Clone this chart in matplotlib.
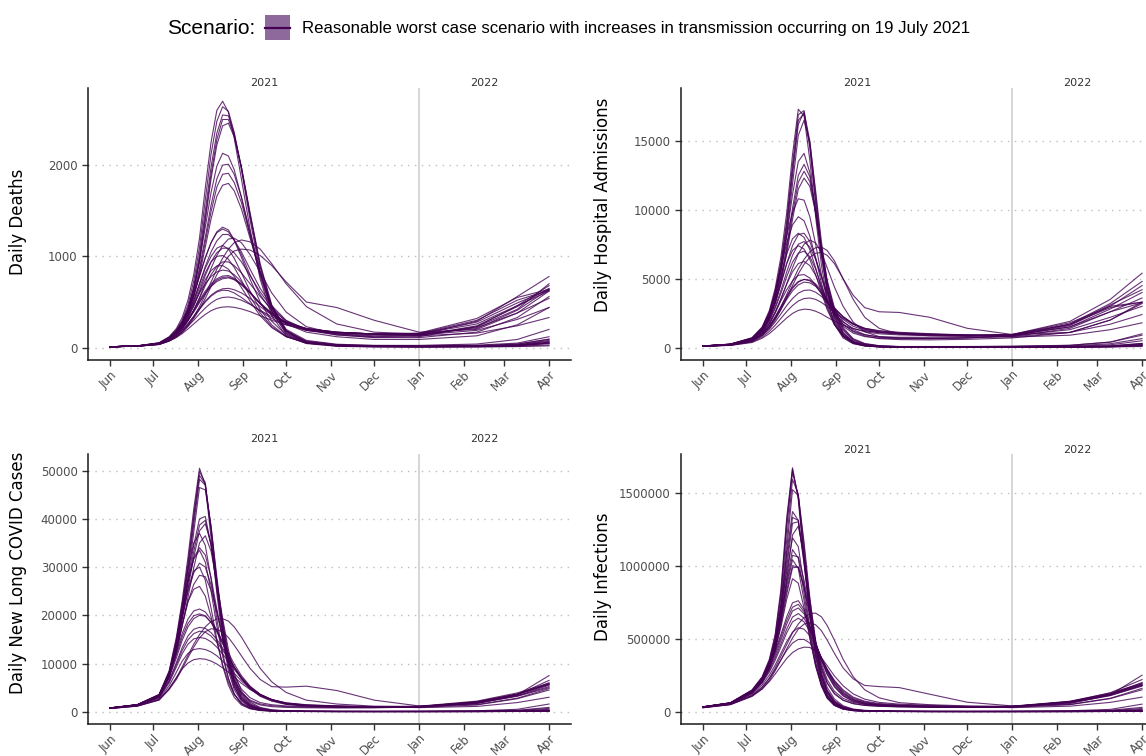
import matplotlib
matplotlib.use("Agg")
import matplotlib.pyplot as plt
import matplotlib.transforms as mtransforms
from matplotlib.patches import Rectangle
from matplotlib.lines import Line2D
import datetime as dt

# ---------------- data ----------------
dates = ["2021-06-01", "2021-06-20", "2021-07-05", "2021-07-12", "2021-07-17", "2021-07-21",
         "2021-07-25", "2021-07-29", "2021-08-02", "2021-08-06", "2021-08-10", "2021-08-14",
         "2021-08-18", "2021-08-22", "2021-08-26", "2021-08-31", "2021-09-06", "2021-09-13",
         "2021-09-21", "2021-10-01", "2021-10-15", "2021-11-05", "2021-12-01", "2022-01-01",
         "2022-02-10", "2022-03-10", "2022-04-01"]

month_ticks = ["2021-06-01", "2021-07-01", "2021-08-01", "2021-09-01", "2021-10-01", "2021-11-01",
               "2021-12-01", "2022-01-01", "2022-02-01", "2022-03-01", "2022-04-01"]
month_labels = ["Jun", "Jul", "Aug", "Sep", "Oct", "Nov", "Dec", "Jan", "Feb", "Mar", "Apr"]
year_labels = ["2021", "2022"]

scenario_label = "Reasonable worst case scenario with increases in transmission occurring on 19 July 2021"

daily_deaths = [
    [10, 20, 55, 120, 210, 330, 520, 800, 1200, 1750, 2250, 2600, 2700, 2580, 2300, 1850, 1300, 750, 350, 130, 45, 15, 8, 6, 8, 12, 20],
    [10, 19, 50, 110, 190, 300, 470, 730, 1100, 1620, 2120, 2480, 2640, 2590, 2360, 1950, 1400, 830, 400, 150, 50, 18, 10, 8, 10, 15, 30],
    [10, 18, 46, 100, 175, 275, 430, 670, 1020, 1500, 1980, 2350, 2550, 2540, 2350, 1980, 1450, 880, 440, 170, 55, 20, 12, 10, 12, 20, 45],
    [10, 18, 44, 95, 165, 255, 400, 620, 940, 1390, 1850, 2220, 2430, 2460, 2310, 1980, 1480, 920, 470, 190, 60, 22, 14, 12, 14, 25, 60],
    [10, 18, 45, 98, 170, 265, 415, 640, 970, 1430, 1900, 2280, 2500, 2500, 2330, 1970, 1460, 900, 455, 180, 58, 21, 13, 11, 13, 22, 50],
    [10, 19, 48, 105, 180, 280, 430, 650, 950, 1320, 1700, 1990, 2130, 2100, 1950, 1650, 1230, 780, 400, 160, 60, 25, 15, 12, 15, 25, 60],
    [10, 18, 44, 95, 165, 255, 390, 590, 870, 1210, 1560, 1850, 2000, 2010, 1900, 1650, 1270, 830, 440, 180, 68, 30, 18, 15, 18, 30, 80],
    [10, 18, 42, 90, 155, 240, 365, 550, 800, 1100, 1410, 1660, 1780, 1800, 1720, 1520, 1200, 820, 450, 200, 80, 38, 24, 22, 28, 50, 120],
    [10, 18, 43, 92, 160, 248, 378, 570, 835, 1160, 1490, 1760, 1900, 1910, 1810, 1590, 1240, 810, 430, 185, 72, 33, 20, 18, 22, 38, 95],
    [10, 20, 52, 115, 195, 290, 420, 590, 790, 990, 1150, 1260, 1300, 1270, 1180, 1020, 800, 580, 400, 260, 170, 120, 90, 90, 130, 250, 440],
    [10, 19, 47, 100, 170, 250, 365, 515, 700, 890, 1050, 1170, 1240, 1240, 1180, 1050, 860, 650, 460, 300, 200, 140, 110, 110, 170, 330, 560],
    [10, 16, 36, 75, 120, 175, 250, 340, 450, 580, 720, 860, 980, 1080, 1150, 1180, 1160, 1080, 920, 700, 450, 260, 170, 150, 210, 410, 640],
    [10, 16, 35, 72, 115, 165, 235, 320, 420, 540, 670, 800, 910, 1000, 1060, 1080, 1070, 1010, 900, 720, 500, 440, 300, 170, 200, 380, 620],
    [10, 18, 42, 92, 155, 230, 330, 460, 620, 790, 940, 1040, 1090, 1090, 1040, 940, 790, 610, 440, 290, 190, 140, 115, 120, 230, 460, 680],
    [10, 18, 41, 88, 145, 210, 300, 410, 540, 680, 800, 890, 940, 940, 900, 820, 700, 560, 420, 290, 200, 150, 130, 140, 290, 560, 780],
    [10, 17, 40, 85, 140, 205, 295, 410, 550, 710, 870, 1010, 1120, 1190, 1200, 1150, 1020, 830, 600, 390, 230, 150, 120, 130, 240, 450, 650],
    [10, 20, 50, 110, 180, 260, 360, 480, 600, 700, 780, 830, 850, 840, 800, 720, 610, 480, 360, 260, 190, 160, 150, 160, 320, 550, 640],
    [10, 18, 44, 95, 155, 225, 310, 410, 520, 620, 700, 755, 785, 790, 760, 700, 600, 480, 370, 270, 200, 165, 150, 155, 300, 520, 630],
    [10, 18, 42, 90, 148, 215, 295, 390, 495, 590, 670, 725, 755, 765, 745, 690, 600, 490, 380, 280, 210, 170, 150, 150, 260, 460, 620],
    [10, 18, 43, 92, 150, 220, 300, 400, 505, 600, 680, 740, 770, 775, 750, 695, 600, 485, 375, 275, 205, 168, 150, 152, 280, 490, 635],
    [10, 17, 40, 85, 138, 196, 265, 345, 430, 510, 575, 620, 645, 650, 635, 600, 540, 450, 360, 275, 210, 170, 150, 140, 220, 380, 540],
    [10, 16, 37, 78, 125, 175, 235, 300, 370, 435, 490, 530, 550, 555, 545, 520, 475, 410, 340, 270, 210, 170, 150, 140, 190, 310, 440],
    [10, 16, 35, 72, 112, 155, 205, 260, 315, 365, 405, 432, 445, 448, 442, 425, 395, 350, 300, 250, 200, 165, 150, 130, 160, 240, 330],
    [10, 17, 39, 82, 132, 188, 255, 335, 420, 500, 565, 610, 630, 625, 600, 550, 480, 400, 320, 250, 190, 155, 140, 140, 230, 420, 700],
    [10, 18, 42, 92, 155, 235, 345, 490, 660, 820, 940, 1000, 1010, 970, 880, 740, 560, 380, 230, 120, 50, 25, 15, 12, 15, 25, 50],
    [10, 18, 41, 88, 148, 222, 325, 455, 605, 745, 845, 895, 900, 860, 780, 660, 510, 350, 220, 120, 55, 30, 25, 25, 40, 90, 200],
    [10, 18, 43, 95, 162, 248, 365, 520, 700, 870, 1000, 1090, 1120, 1080, 980, 820, 620, 420, 250, 125, 50, 25, 18, 15, 20, 40, 90],
    [10, 19, 46, 100, 172, 265, 395, 570, 780, 980, 1150, 1270, 1320, 1290, 1180, 990, 750, 500, 290, 140, 55, 25, 15, 12, 15, 30, 70],
]

daily_admissions = [
    [120, 260, 720, 1500, 2700, 4300, 6600, 9800, 14000, 17300, 16800, 13600, 9500, 6000, 3500, 1700, 700, 280, 120, 55, 30, 25, 25, 25, 30, 50, 80],
    [115, 245, 670, 1400, 2500, 4000, 6200, 9200, 13300, 16900, 17200, 14500, 10400, 6700, 4000, 2000, 850, 330, 140, 60, 35, 30, 30, 30, 35, 60, 120],
    [110, 230, 630, 1300, 2350, 3750, 5800, 8600, 12500, 16200, 17100, 15000, 11100, 7300, 4400, 2300, 1000, 400, 160, 70, 40, 35, 35, 35, 45, 80, 200],
    [105, 220, 600, 1240, 2230, 3550, 5480, 8150, 11850, 15400, 16500, 14900, 11400, 7700, 4750, 2500, 1100, 440, 180, 80, 45, 40, 40, 40, 50, 100, 260],
    [112, 238, 650, 1350, 2420, 3870, 6000, 8900, 12900, 16500, 17000, 14700, 10700, 7000, 4200, 2150, 920, 370, 150, 65, 38, 32, 32, 32, 40, 70, 160],
    [115, 245, 660, 1350, 2400, 3750, 5600, 8100, 11100, 13500, 14100, 12700, 9800, 6700, 4200, 2300, 1050, 440, 190, 85, 45, 40, 40, 40, 55, 110, 300],
    [110, 230, 610, 1250, 2200, 3420, 5100, 7350, 10100, 12500, 13300, 12400, 10000, 7100, 4600, 2600, 1250, 540, 240, 110, 60, 55, 55, 60, 90, 200, 500],
    [105, 220, 580, 1180, 2060, 3180, 4720, 6800, 9300, 11500, 12300, 11700, 9800, 7300, 4900, 2900, 1450, 650, 300, 140, 80, 80, 80, 100, 170, 400, 900],
    [108, 225, 595, 1215, 2130, 3300, 4900, 7080, 9700, 12000, 12800, 12050, 9900, 7200, 4750, 2750, 1350, 590, 270, 125, 70, 65, 65, 75, 120, 280, 650],
    [115, 240, 650, 1300, 2200, 3250, 4600, 6100, 7400, 8200, 8300, 7700, 6500, 5100, 3800, 2600, 1700, 1150, 850, 650, 580, 560, 600, 700, 1100, 2000, 3200],
    [110, 225, 600, 1200, 2000, 2950, 4150, 5500, 6700, 7500, 7700, 7300, 6400, 5200, 4000, 2850, 1900, 1300, 950, 750, 680, 650, 700, 800, 1400, 2600, 3600],
    [100, 195, 500, 950, 1500, 2150, 2950, 3850, 4800, 5700, 6400, 6950, 7250, 7300, 7050, 6300, 5000, 3500, 2200, 1400, 980, 860, 850, 900, 1500, 2800, 4000],
    [95, 185, 470, 890, 1400, 2000, 2750, 3600, 4500, 5350, 6050, 6550, 6850, 6900, 6700, 6100, 5000, 3800, 2900, 2600, 2550, 2200, 1400, 950, 1100, 2000, 3300],
    [110, 220, 590, 1180, 1950, 2850, 3950, 5150, 6200, 6850, 7000, 6600, 5700, 4500, 3400, 2350, 1550, 1050, 800, 680, 650, 650, 700, 850, 1600, 3000, 4500],
    [105, 210, 550, 1080, 1780, 2580, 3560, 4600, 5500, 6100, 6250, 5950, 5250, 4300, 3350, 2450, 1700, 1200, 920, 780, 750, 750, 800, 950, 1900, 3500, 5400],
    [100, 200, 520, 1020, 1700, 2500, 3500, 4650, 5800, 6800, 7500, 7800, 7600, 6900, 5800, 4400, 3000, 1850, 1150, 800, 700, 680, 720, 850, 1700, 3200, 4800],
    [110, 215, 570, 1120, 1800, 2550, 3400, 4200, 4850, 5250, 5300, 5050, 4550, 3900, 3200, 2500, 1850, 1400, 1150, 1000, 920, 870, 850, 950, 1800, 3000, 3300],
    [100, 195, 510, 1000, 1600, 2250, 3000, 3750, 4380, 4800, 4950, 4850, 4500, 3950, 3350, 2700, 2050, 1550, 1250, 1080, 980, 920, 900, 950, 1700, 2900, 3300],
    [100, 190, 490, 950, 1500, 2100, 2800, 3500, 4120, 4550, 4750, 4700, 4450, 4000, 3450, 2850, 2200, 1700, 1350, 1150, 1030, 960, 910, 900, 1500, 2600, 3250],
    [100, 180, 450, 860, 1340, 1860, 2450, 3050, 3560, 3950, 4150, 4180, 4020, 3720, 3300, 2800, 2250, 1750, 1400, 1200, 1080, 980, 910, 860, 1300, 2200, 3000],
    [98, 170, 410, 770, 1180, 1620, 2120, 2620, 3050, 3380, 3560, 3600, 3500, 3280, 2980, 2580, 2120, 1700, 1400, 1230, 1110, 1010, 920, 800, 1100, 1700, 2400],
    [92, 158, 370, 680, 1020, 1380, 1770, 2150, 2480, 2700, 2790, 2760, 2640, 2450, 2200, 1920, 1620, 1370, 1200, 1100, 1040, 960, 860, 760, 900, 1300, 1800],
    [102, 192, 500, 975, 1550, 2180, 2900, 3640, 4300, 4750, 4950, 4900, 4620, 4150, 3550, 2900, 2250, 1700, 1320, 1120, 1000, 940, 900, 920, 1650, 3100, 4200],
    [112, 228, 640, 1320, 2320, 3600, 5200, 6800, 7900, 8300, 8000, 7100, 5800, 4300, 2900, 1700, 850, 380, 160, 75, 50, 45, 45, 50, 70, 130, 300],
    [105, 215, 590, 1220, 2130, 3280, 4700, 6100, 7050, 7400, 7150, 6400, 5300, 4000, 2750, 1650, 870, 420, 190, 100, 70, 65, 70, 90, 160, 400, 1000],
    [115, 240, 680, 1420, 2520, 3950, 5750, 7600, 8900, 9500, 9200, 8100, 6500, 4700, 3100, 1750, 800, 330, 130, 55, 35, 30, 28, 30, 45, 90, 220],
    [118, 250, 700, 1460, 2600, 4100, 6050, 8150, 9800, 10800, 10700, 9500, 7500, 5300, 3400, 1850, 820, 320, 120, 50, 30, 25, 25, 25, 35, 60, 150],
]

daily_long_covid = [
    [800, 1500, 3600, 8500, 15500, 23000, 32000, 42000, 50500, 47000, 36000, 24500, 15000, 8500, 4600, 2200, 950, 400, 180, 100, 60, 40, 35, 35, 40, 60, 100],
    [780, 1460, 3450, 8000, 14700, 22000, 30800, 40800, 49800, 47500, 37500, 26000, 16200, 9300, 5100, 2450, 1050, 450, 200, 110, 65, 45, 40, 40, 45, 70, 150],
    [760, 1420, 3300, 7600, 13800, 20700, 29100, 38800, 48200, 47000, 38300, 27200, 17300, 10100, 5600, 2700, 1200, 510, 230, 120, 70, 50, 45, 45, 55, 90, 250],
    [750, 1390, 3200, 7300, 13200, 19800, 27800, 37200, 46500, 46000, 38500, 28000, 18200, 10800, 6100, 3000, 1320, 560, 250, 130, 75, 55, 50, 50, 60, 110, 350],
    [770, 1440, 3380, 7800, 14300, 21400, 30000, 39900, 49000, 47200, 37900, 26600, 16700, 9700, 5300, 2550, 1120, 480, 215, 115, 68, 48, 42, 42, 50, 80, 200],
    [780, 1450, 3400, 7900, 14000, 20500, 27500, 34500, 40000, 40500, 34500, 25500, 17000, 10500, 6000, 3000, 1350, 600, 260, 140, 80, 60, 55, 60, 80, 160, 500],
    [750, 1400, 3250, 7400, 13000, 19000, 25500, 32000, 37500, 39000, 34800, 27000, 18800, 12000, 7200, 3700, 1700, 760, 330, 170, 100, 75, 70, 80, 130, 300, 900],
    [740, 1370, 3100, 7000, 12200, 17700, 23700, 29800, 35000, 36500, 33300, 26700, 19400, 12900, 8000, 4300, 2000, 900, 400, 200, 120, 90, 90, 110, 200, 500, 1600],
    [760, 1420, 3320, 7650, 13500, 19700, 26500, 33200, 38700, 39700, 34600, 26200, 17900, 11200, 6600, 3350, 1520, 680, 295, 155, 90, 68, 62, 70, 105, 230, 700],
    [780, 1450, 3500, 8000, 13800, 19500, 24800, 28800, 30800, 30000, 26300, 20800, 15200, 10300, 6700, 4000, 2400, 1600, 1250, 1050, 950, 880, 880, 1100, 2000, 3600, 5600],
    [750, 1400, 3300, 7500, 12800, 18000, 22800, 26400, 28300, 28000, 25200, 20600, 15600, 11100, 7500, 4700, 2900, 1900, 1450, 1200, 1050, 970, 950, 1150, 2200, 3900, 5900],
    [680, 1200, 2500, 4800, 7000, 9300, 11700, 14000, 16000, 17600, 18700, 19200, 19300, 18800, 17600, 15500, 12500, 9000, 6200, 4000, 2400, 1600, 1150, 1100, 2000, 3600, 5700],
    [660, 1150, 2400, 4600, 6700, 8900, 11200, 13400, 15300, 16600, 17200, 17100, 16500, 15400, 13800, 11600, 9000, 6700, 5200, 5100, 5300, 4400, 2400, 1200, 1500, 2800, 4800],
    [770, 1440, 3450, 7950, 14000, 20300, 26900, 31900, 34000, 32500, 27800, 21300, 15200, 10100, 6400, 3800, 2200, 1400, 1050, 900, 820, 780, 800, 1000, 1800, 3300, 5200],
    [770, 1450, 3500, 7700, 12300, 16200, 19200, 20900, 21300, 20700, 19100, 16900, 14300, 11700, 9300, 6900, 4800, 3200, 2200, 1500, 1150, 1000, 950, 1050, 2100, 3700, 5800],
    [750, 1400, 3300, 7100, 11200, 14800, 17600, 19300, 20000, 19800, 18600, 16800, 14600, 12200, 9900, 7500, 5300, 3600, 2450, 1650, 1250, 1070, 1000, 1050, 2000, 3600, 6000],
    [740, 1350, 3100, 6500, 10200, 13300, 15700, 17100, 17500, 17300, 16400, 15000, 13200, 11300, 9300, 7200, 5200, 3600, 2500, 1700, 1300, 1100, 1000, 1000, 1800, 3300, 5500],
    [720, 1300, 2900, 6000, 9300, 12000, 14000, 15100, 15400, 15200, 14500, 13400, 12000, 10400, 8800, 6900, 5100, 3600, 2550, 1750, 1350, 1150, 1000, 950, 1700, 3500, 7500],
    [700, 1250, 2700, 5400, 8200, 10500, 12100, 12900, 13100, 12900, 12400, 11600, 10500, 9300, 8000, 6400, 4800, 3500, 2500, 1800, 1400, 1180, 1050, 900, 1400, 2700, 4500],
    [680, 1200, 2500, 4800, 7100, 8900, 10100, 10800, 11000, 10900, 10500, 9900, 9100, 8200, 7200, 5900, 4600, 3400, 2500, 1850, 1450, 1220, 1050, 850, 1100, 1900, 3000],
    [760, 1420, 3400, 7400, 11800, 15500, 18300, 19900, 20300, 19900, 18500, 16500, 14100, 11600, 9200, 6900, 4800, 3300, 2300, 1600, 1200, 1030, 970, 1020, 1900, 3500, 6500],
    [730, 1330, 3000, 6300, 9800, 12700, 14900, 16200, 16700, 16500, 15700, 14400, 12800, 11000, 9100, 7000, 5000, 3500, 2450, 1700, 1300, 1100, 1000, 980, 1750, 3200, 5000],
    [760, 1400, 3300, 7800, 13800, 19900, 25500, 29200, 30000, 27300, 21500, 15000, 9500, 5500, 3000, 1400, 600, 250, 120, 70, 45, 35, 30, 30, 35, 55, 100],
    [740, 1350, 3100, 7200, 12600, 18000, 22800, 25400, 26000, 24000, 19700, 14500, 9800, 6100, 3600, 1800, 820, 360, 170, 100, 60, 45, 40, 45, 60, 110, 250],
    [760, 1420, 3400, 8100, 14400, 21000, 27300, 31600, 33500, 31000, 25000, 17800, 11500, 6800, 3700, 1700, 730, 310, 150, 90, 55, 40, 35, 35, 40, 70, 150],
    [770, 1440, 3450, 8300, 15000, 22300, 29500, 35000, 37000, 34500, 27500, 19200, 12200, 7000, 3700, 1650, 700, 300, 140, 80, 50, 38, 34, 34, 38, 60, 120],
]

daily_infections = [
    [34000, 62000, 150000, 240000, 360000, 530000, 840000, 1330000, 1670000, 1450000, 1030000, 640000, 370000, 200000, 105000, 50000, 22000, 9000, 4500, 3000, 2000, 1300, 1100, 1100, 1300, 2000, 3500],
    [33000, 60000, 142000, 228000, 340000, 500000, 790000, 1260000, 1640000, 1480000, 1080000, 690000, 400000, 220000, 116000, 56000, 25000, 10000, 5000, 3300, 2200, 1500, 1300, 1300, 1500, 2300, 5000],
    [32000, 58000, 135000, 215000, 320000, 470000, 740000, 1180000, 1590000, 1490000, 1130000, 740000, 440000, 245000, 130000, 63000, 28000, 11500, 5600, 3600, 2400, 1700, 1500, 1500, 1800, 3000, 8000],
    [31000, 57000, 130000, 205000, 305000, 445000, 700000, 1110000, 1520000, 1480000, 1160000, 780000, 470000, 265000, 142000, 69000, 31000, 12800, 6200, 4000, 2600, 1900, 1700, 1700, 2100, 3800, 11000],
    [33500, 61000, 146000, 234000, 350000, 515000, 815000, 1300000, 1660000, 1470000, 1055000, 665000, 385000, 210000, 110000, 53000, 23500, 9500, 4800, 3150, 2100, 1400, 1200, 1200, 1400, 2100, 4200],
    [33000, 60000, 140000, 225000, 335000, 485000, 730000, 1080000, 1370000, 1310000, 1010000, 680000, 410000, 235000, 128000, 63000, 29000, 12500, 6300, 4000, 2600, 2000, 1800, 2000, 2600, 5200, 16000],
    [32000, 58000, 132000, 210000, 310000, 445000, 665000, 990000, 1290000, 1300000, 1050000, 730000, 455000, 265000, 148000, 75000, 35000, 15500, 7800, 5000, 3300, 2500, 2300, 2600, 4300, 10000, 30000],
    [31000, 57000, 127000, 200000, 292000, 415000, 615000, 915000, 1210000, 1270000, 1070000, 770000, 490000, 292000, 167000, 87000, 41000, 18500, 9500, 6000, 4000, 3000, 2900, 3500, 6500, 16000, 52000],
    [32500, 59000, 136000, 217000, 322000, 465000, 698000, 1035000, 1330000, 1310000, 1030000, 705000, 432000, 250000, 138000, 69000, 32000, 14000, 7000, 4500, 2950, 2250, 2050, 2300, 3400, 7500, 22000],
    [33000, 60000, 145000, 230000, 335000, 470000, 650000, 880000, 1070000, 1060000, 900000, 680000, 470000, 310000, 200000, 125000, 80000, 56000, 44000, 38000, 34000, 31000, 30000, 37000, 68000, 120000, 185000],
    [32000, 58000, 138000, 217000, 312000, 432000, 595000, 805000, 985000, 990000, 860000, 670000, 480000, 330000, 220000, 140000, 92000, 64000, 50000, 42000, 37000, 33000, 32000, 38000, 72000, 128000, 195000],
    [28000, 50000, 110000, 165000, 230000, 300000, 380000, 460000, 540000, 600000, 645000, 672000, 675000, 650000, 590000, 490000, 360000, 240000, 150000, 95000, 62000, 48000, 40000, 37000, 66000, 120000, 190000],
    [27000, 48000, 105000, 155000, 215000, 280000, 355000, 430000, 505000, 565000, 600000, 610000, 595000, 555000, 490000, 400000, 300000, 225000, 180000, 172000, 165000, 120000, 65000, 40000, 50000, 92000, 160000],
    [32500, 59000, 140000, 222000, 322000, 450000, 620000, 830000, 1000000, 990000, 850000, 650000, 455000, 300000, 195000, 122000, 78000, 55000, 43000, 37000, 33000, 30000, 30000, 36000, 65000, 115000, 180000],
    [33000, 60000, 145000, 225000, 315000, 415000, 530000, 650000, 745000, 760000, 700000, 590000, 465000, 350000, 255000, 170000, 108000, 70000, 52000, 42000, 37000, 34000, 32000, 35000, 70000, 122000, 190000],
    [32000, 58000, 138000, 212000, 295000, 385000, 490000, 600000, 690000, 710000, 670000, 580000, 470000, 365000, 272000, 185000, 120000, 78000, 57000, 45000, 39000, 35000, 33000, 35000, 66000, 118000, 200000],
    [31000, 56000, 130000, 198000, 272000, 352000, 445000, 540000, 615000, 640000, 615000, 550000, 460000, 370000, 285000, 200000, 132000, 86000, 62000, 48000, 41000, 36000, 33000, 33000, 60000, 110000, 180000],
    [30000, 54000, 122000, 184000, 250000, 320000, 400000, 480000, 545000, 575000, 565000, 520000, 450000, 370000, 292000, 210000, 142000, 93000, 67000, 52000, 44000, 38000, 33000, 31000, 56000, 115000, 250000],
    [29000, 52000, 115000, 170000, 228000, 288000, 355000, 420000, 470000, 495000, 495000, 470000, 420000, 355000, 290000, 215000, 150000, 100000, 72000, 56000, 47000, 40000, 34000, 30000, 48000, 90000, 150000],
    [28000, 50000, 108000, 157000, 207000, 258000, 312000, 365000, 405000, 430000, 442000, 440000, 415000, 370000, 315000, 245000, 178000, 122000, 86000, 64000, 52000, 44000, 36000, 28000, 38000, 64000, 100000],
    [32500, 59000, 141000, 220000, 306000, 402000, 512000, 625000, 715000, 735000, 685000, 585000, 465000, 355000, 260000, 175000, 112000, 73000, 54000, 43000, 38000, 34000, 32000, 35000, 68000, 130000, 220000],
    [31500, 57000, 134000, 205000, 283000, 368000, 466000, 566000, 648000, 672000, 640000, 565000, 465000, 368000, 280000, 194000, 127000, 82000, 60000, 47000, 40000, 35000, 33000, 34000, 62000, 112000, 175000],
    [32000, 58000, 140000, 222000, 325000, 455000, 640000, 860000, 1040000, 980000, 760000, 510000, 310000, 175000, 92000, 43000, 18000, 7500, 3800, 2300, 1500, 1100, 1000, 1000, 1200, 1800, 3300],
    [31000, 56000, 132000, 208000, 302000, 420000, 580000, 770000, 910000, 880000, 710000, 500000, 320000, 190000, 106000, 52000, 23000, 10000, 5300, 3300, 2000, 1500, 1400, 1500, 2000, 3600, 8000],
    [32000, 59000, 142000, 228000, 336000, 475000, 672000, 905000, 1110000, 1050000, 810000, 540000, 325000, 180000, 95000, 44000, 18500, 7700, 3900, 2400, 1600, 1150, 1050, 1050, 1250, 1900, 3800],
    [32500, 59500, 144000, 232000, 345000, 492000, 705000, 960000, 1190000, 1130000, 865000, 570000, 340000, 185000, 96000, 44000, 18000, 7400, 3700, 2300, 1500, 1100, 1000, 1000, 1200, 1700, 3400],
]

deaths_ticks = [0, 1000, 2000]
admissions_ticks = [0, 5000, 10000, 15000]
long_covid_ticks = [0, 10000, 20000, 30000, 40000, 50000]
infections_ticks = [0, 500000, 1000000, 1500000]

# ---------------- figure ----------------
W, H = 1146, 756
fig = plt.figure(figsize=(W / 100, H / 100), dpi=100)
fig.patch.set_facecolor("white")

LINE_COLOR = "#440154"
TEXT_GREY = "#4d4d4d"

x_dates = [dt.datetime.strptime(d, "%Y-%m-%d") for d in dates]
tick_dates = [dt.datetime.strptime(d, "%Y-%m-%d") for d in month_ticks]
start = x_dates[0]
end = x_dates[-1]
span = end - start
xlim = (start - span * 0.05, end + span * 0.05)
jan1 = dt.datetime(2022, 1, 1)


def add_axes_px(left, top, right, bottom):
    return fig.add_axes([left / W, 1 - bottom / H, (right - left) / W, (bottom - top) / H])


def draw_panel(ax, series, yticks, ylabel, ylim, ylabel_xy, year_y, top_px, bottom_px):
    for s in series:
        ax.plot(x_dates, s, color=LINE_COLOR, lw=0.8, alpha=0.8, solid_joinstyle="round")
    ax.set_xlim(xlim)
    ax.set_ylim(ylim)
    ax.set_yticks(yticks)
    ax.set_yticklabels([str(v) for v in yticks])
    ax.set_xticks(tick_dates)
    ax.set_xticklabels(month_labels, rotation=45, ha="right", va="top", rotation_mode="anchor")
    for t in yticks:
        ax.axhline(t, color="#bdbdbd", lw=1.0, ls=(0, (1, 4)), zorder=0)
    ax.axvline(jan1, color="#cfcfcf", lw=1.2, zorder=0.5)
    for sp in ["top", "right"]:
        ax.spines[sp].set_visible(False)
    for sp in ["left", "bottom"]:
        ax.spines[sp].set_color("#1a1a1a")
        ax.spines[sp].set_linewidth(1.1)
    ax.tick_params(axis="both", direction="out", length=4, width=1.0, color="#333333",
                   labelcolor=TEXT_GREY, labelsize=8.5)
    ax.tick_params(axis="x", pad=2)
    lx, ly = ylabel_xy
    ax.set_ylabel(ylabel, fontsize=12, color="black")
    ax.yaxis.set_label_coords(lx, (bottom_px - ly) / (bottom_px - top_px))
    mid21 = start + (jan1 - start) / 2
    mid22 = jan1 + (end - jan1) / 2
    trans = mtransforms.blended_transform_factory(ax.transData, ax.transAxes)
    ax.text(mid21, year_y, year_labels[0], transform=trans, ha="center", va="center",
            fontsize=8, color="#333333")
    ax.text(mid22, year_y, year_labels[1], transform=trans, ha="center", va="center",
            fontsize=8, color="#333333")


TOP1, BOT1 = 88, 360
TOP2, BOT2 = 454, 724
ax1 = add_axes_px(88, TOP1, 571, BOT1)
ax2 = add_axes_px(681, TOP1, 1164, BOT1)
ax3 = add_axes_px(88, TOP2, 571, BOT2)
ax4 = add_axes_px(681, TOP2, 1164, BOT2)

draw_panel(ax1, daily_deaths, deaths_ticks, "Daily Deaths", (-135, 2845),
           ((27 - 88) / 483, 222), 1 + 5 / 272, TOP1, BOT1)
draw_panel(ax2, daily_admissions, admissions_ticks, "Daily Hospital Admissions", (-900, 18840),
           ((612 - 681) / 483, 205), 1 + 5 / 272, TOP1, BOT1)
draw_panel(ax3, daily_long_covid, long_covid_ticks, "Daily New Long COVID Cases", (-2545, 53450),
           ((27 - 88) / 483, 573), 1 + 15 / 270, TOP2, BOT2)
draw_panel(ax4, daily_infections, infections_ticks, "Daily Infections", (-84000, 1764000),
           ((612 - 681) / 483, 577), 1 + 4 / 270, TOP2, BOT2)

# ---------------- legend ----------------
fig.text(167 / W, 1 - 29 / H, "Scenario:", fontsize=15, family="Liberation Sans",
         ha="left", va="center", color="black")
fig.patches.append(Rectangle((265 / W, 1 - 40 / H), 25 / W, 25 / H, transform=fig.transFigure,
                             facecolor="#8e6a9c", edgecolor="none"))
fig.lines.append(Line2D([265 / W, 290 / W], [1 - 27.5 / H, 1 - 27.5 / H], transform=fig.transFigure,
                        color=LINE_COLOR, lw=1.6))
fig.text(302 / W, 1 - 28 / H, scenario_label, fontsize=12.1, family="Liberation Sans",
         ha="left", va="center", color="black")

fig.savefig("out.png", dpi=100)
